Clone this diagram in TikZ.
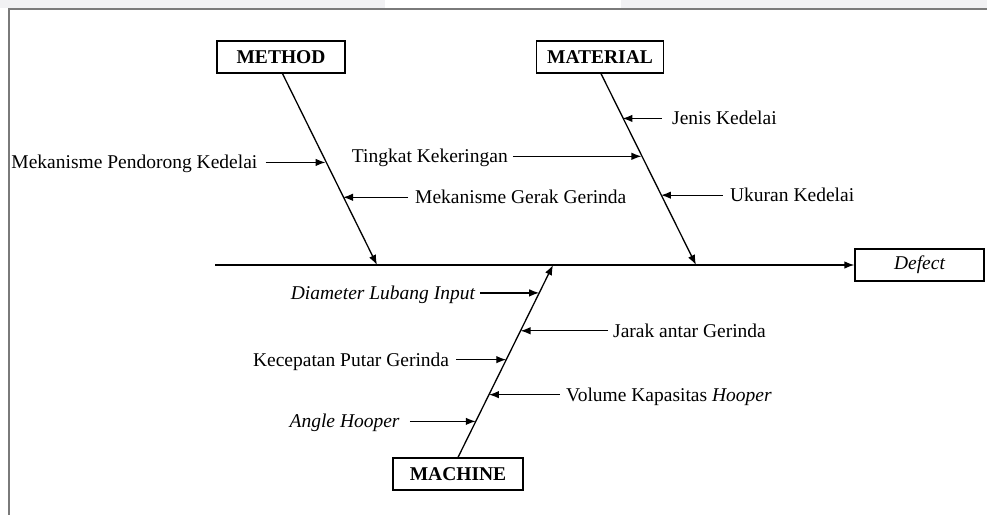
\documentclass[tikz,border=0pt]{standalone}
\usepackage{fontspec}
\setmainfont{Liberation Serif}
\usetikzlibrary{arrows.meta,calc}
\definecolor{framegray}{HTML}{7A7A7A}
\definecolor{bandgray}{HTML}{F1F1F3}
\begin{document}
\begin{tikzpicture}[x=1pt,y=-1pt,
  lbl/.style={inner sep=0pt, font=\fontsize{19.5}{22}\selectfont},
  catbox/.style={draw, line width=1.3pt, minimum width=128pt, minimum height=32pt,
    inner sep=0pt, font=\fontsize{19.5}{22}\selectfont\bfseries},
  bone/.style={line width=1.3pt, -{Latex[length=10pt,width=7.5pt]}},
  cause/.style={line width=1.3pt, -{Latex[length=10pt,width=7.5pt]}},
]
\useasboundingbox (0,0) rectangle (987,515);

% page band and frame
\fill[bandgray] (0,0) rectangle (987,8);
\fill[white] (385,0) rectangle (621,8);
\draw[framegray, line width=2pt] (987,9) -- (9,9) -- (9,515);

% category boxes and effect
\node[catbox] (method) at (281,57) {METHOD};
\node[catbox, minimum width=127pt] (material) at (600,57) {MATERIAL};
\node[catbox, minimum width=130pt] (machine) at (458,474) {MACHINE};
\node[catbox, minimum width=129pt, font=\fontsize{19.5}{22}\selectfont\itshape] (defect) at (919.5,265) {Defect};

% spine
\coordinate (spineL) at (215,265);
\draw[cause] (spineL) -- (defect.west);

% bones
\coordinate (mtip) at (377,265);
\coordinate (atip) at (696,265);
\coordinate (ctip) at (553,265);
\draw[bone] ([xshift=1.5pt]method.south) -- (mtip);
\draw[bone] ([xshift=1pt]material.south) -- (atip);
\draw[bone] (machine.north) -- (ctip);

% ---- METHOD causes
\coordinate (m1) at ($(method.south)!0.464!(mtip)$);
\coordinate (s1) at ($(m1)+(-60,0)$);
\draw[cause] (s1) -- (m1);
\node[lbl, anchor=base east] (t1) at ($(s1)+(-8,6.5)$) {Mekanisme Pendorong Kedelai};

\coordinate (m2) at ($(method.south)!0.646!(mtip)$);
\coordinate (s2) at ($(m2)+(65,0)$);
\draw[cause] (s2) -- (m2);
\node[lbl, anchor=base west] (t2) at ($(s2)+(7,6.5)$) {Mekanisme Gerak Gerinda};

% ---- MATERIAL causes
\coordinate (a1) at ($(material.south)!0.234!(atip)$);
\coordinate (r1) at ($(a1)+(39.5,0)$);
\draw[cause] (r1) -- (a1);
\node[lbl, anchor=base west] (u1) at ($(r1)+(10,6.5)$) {Jenis Kedelai};

\coordinate (a2) at ($(material.south)!0.432!(atip)$);
\coordinate (r2) at ($(a2)+(-128.5,0)$);
\draw[cause] (r2) -- (a2);
\node[lbl, anchor=base east] (u2) at ($(r2)+(-5,6.5)$) {Tingkat Kekeringan};

\coordinate (a3) at ($(material.south)!0.635!(atip)$);
\coordinate (r3) at ($(a3)+(62,0)$);
\draw[cause] (r3) -- (a3);
\node[lbl, anchor=base west] (u3) at ($(r3)+(7,6.5)$) {Ukuran Kedelai};

% ---- MACHINE causes
\coordinate (c1) at ($(machine.north)!0.855!(ctip)$);
\coordinate (k1) at ($(c1)+(-59,0)$);
\draw[cause] (k1) -- (c1);
\node[lbl, anchor=base east] (v1) at ($(k1)+(-5,6.5)$) {\itshape Diameter Lubang Input};

\coordinate (c2) at ($(machine.north)!0.658!(ctip)$);
\coordinate (k2) at ($(c2)+(87.5,0)$);
\draw[cause] (k2) -- (c2);
\node[lbl, anchor=base west] (v2) at ($(k2)+(5,6.5)$) {Jarak antar Gerinda};

\coordinate (c3) at ($(machine.north)!0.508!(ctip)$);
\coordinate (k3) at ($(c3)+(-50,0)$);
\draw[cause] (k3) -- (c3);
\node[lbl, anchor=base east] (v3) at ($(k3)+(-7,6.5)$) {Kecepatan Putar Gerinda};

\coordinate (c4) at ($(machine.north)!0.326!(ctip)$);
\coordinate (k4) at ($(c4)+(71,0)$);
\draw[cause] (k4) -- (c4);
\node[lbl, anchor=base west] (v4) at ($(k4)+(6,6.5)$) {Volume Kapasitas \textit{Hooper}};

\coordinate (c5) at ($(machine.north)!0.187!(ctip)$);
\coordinate (k5) at ($(c5)+(-66,0)$);
\draw[cause] (k5) -- (c5);
\node[lbl, anchor=base east] (v5) at ($(k5)+(-10,6.5)$) {\itshape Angle Hooper};
\end{tikzpicture}
\end{document}
